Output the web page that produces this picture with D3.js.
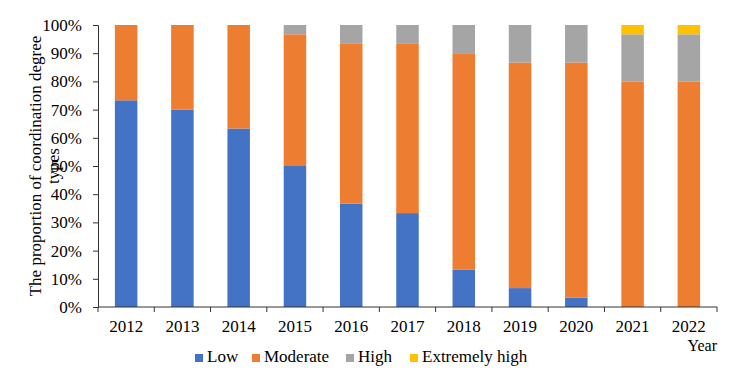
<!DOCTYPE html>
<html>
<head>
<meta charset="utf-8">
<script src="https://cdn.jsdelivr.net/npm/d3@7"></script>
<style>
  body { margin: 0; background: #fff; }
  svg, svg text { font-family: "Liberation Serif", "Times New Roman", serif; fill: #000; }
</style>
</head>
<body>
<div id="viz"></div>
<script>
var years = ['2012', '2013', '2014', '2015', '2016', '2017', '2018', '2019', '2020', '2021', '2022'];
var seriesNames = ['Low', 'Moderate', 'High', 'Extremely high'];
var low = [73.3, 70, 63.3, 50, 36.7, 33.3, 13.3, 6.7, 3.3, 0, 0];
var moderate = [26.7, 30, 36.7, 46.7, 56.6, 60, 76.7, 80, 83.4, 80, 80];
var high = [0, 0, 0, 3.3, 6.7, 6.7, 10, 13.3, 13.3, 16.7, 16.7];
var extremelyHigh = [0, 0, 0, 0, 0, 0, 0, 0, 0, 3.3, 3.3];
var yTicks = [0, 10, 20, 30, 40, 50, 60, 70, 80, 90, 100];
var colors = ['#4472C4', '#ED7D31', '#A5A5A5', '#FFC000'];

var width = 736, height = 386,
    margin = { top: 25, right: 19, bottom: 79, left: 98 };

var rows = years.map(function(y, i) {
  return { year: y, Low: low[i], Moderate: moderate[i], High: high[i], 'Extremely high': extremelyHigh[i] };
});
var stack = d3.stack().keys(seriesNames)(rows);

var svg = d3.select('#viz').append('svg')
  .attr('width', width)
  .attr('height', height);

var xScale = d3.scaleBand()
  .domain(years)
  .range([margin.left, width - margin.right])
  .paddingInner(0.6)
  .paddingOuter(0.3);

var yScale = d3.scaleLinear()
  .domain([0, 100])
  .range([height - margin.bottom, margin.top]);

svg.append('g')
  .selectAll('g').data(stack)
  .enter().append('g')
  .attr('fill', function(d, i) { return colors[i]; })
  .selectAll('rect').data(function(d) { return d; })
  .enter().append('rect')
  .attr('x', function(d) { return xScale(d.data.year); })
  .attr('width', xScale.bandwidth())
  .attr('y', function(d) { return yScale(d[1]); })
  .attr('height', function(d) { return yScale(d[0]) - yScale(d[1]); });

// y axis
var yAxis = svg.append('g')
  .attr('transform', 'translate(' + margin.left + ',0)')
  .call(d3.axisLeft(yScale).tickValues(yTicks).tickSize(5)
    .tickFormat(function(d) { return d + '%'; }));
yAxis.attr('font-family', null).attr('font-size', null);
yAxis.select('.domain').attr('stroke', '#333');
yAxis.selectAll('.tick line').attr('stroke', '#333');
yAxis.selectAll('text')
  .attr('x', -16)
  .attr('fill', '#000')
  .style('font-size', '17px');

// x axis with ticks at band edges
var bottom = height - margin.bottom;
var step = xScale.step();
var edges = d3.range(years.length + 1).map(function(i) { return margin.left + i * step; });
var xg = svg.append('g');
xg.append('line')
  .attr('x1', margin.left).attr('x2', width - margin.right)
  .attr('y1', bottom).attr('y2', bottom)
  .attr('stroke', '#333');
xg.selectAll('line.tk').data(edges)
  .enter().append('line')
  .attr('class', 'tk')
  .attr('x1', function(d) { return d; }).attr('x2', function(d) { return d; })
  .attr('y1', bottom).attr('y2', bottom + 5)
  .attr('stroke', '#333');
xg.selectAll('text').data(years)
  .enter().append('text')
  .attr('x', function(d) { return xScale(d) + xScale.bandwidth() / 2; })
  .attr('y', bottom + 25)
  .attr('text-anchor', 'middle')
  .style('font-size', '17px')
  .text(function(d) { return d; });

svg.append('text')
  .attr('x', width - margin.right)
  .attr('y', 351)
  .attr('text-anchor', 'end')
  .style('font-size', '16px')
  .text('Year');

// y title (wrapped in two lines)
var yTitle = svg.append('text')
  .attr('transform', 'translate(41,166) rotate(-90)')
  .attr('text-anchor', 'middle')
  .style('font-size', '17px');
yTitle.append('tspan').attr('x', 0).attr('dy', 0).text('The proportion of coordination degree');
yTitle.append('tspan').attr('x', 0).attr('dy', 18).text('types');

// legend
var legendX = [195, 252, 346, 410];
var legend = svg.append('g').selectAll('g').data(seriesNames)
  .enter().append('g')
  .attr('transform', function(d, i) { return 'translate(' + legendX[i] + ',354)'; });
legend.append('rect')
  .attr('width', 8).attr('height', 8)
  .attr('fill', function(d, i) { return colors[i]; });
legend.append('text')
  .attr('x', 12)
  .attr('y', 8)
  .style('font-size', '17px')
  .text(function(d) { return d; });
</script>
</body>
</html>
